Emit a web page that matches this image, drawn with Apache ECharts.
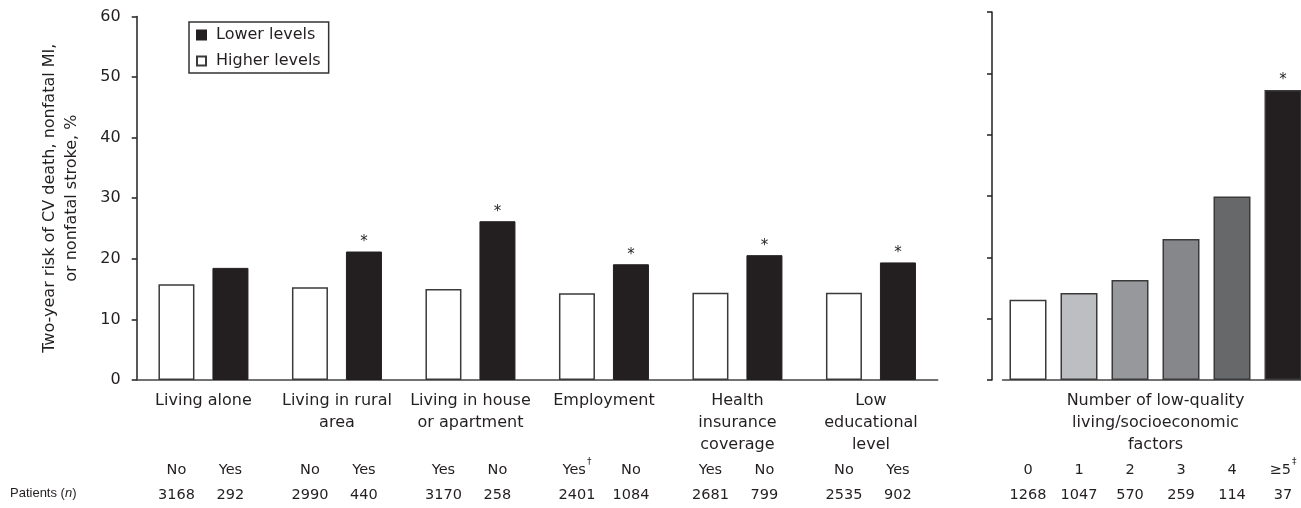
<!DOCTYPE html>
<html><head><meta charset="utf-8">
<script src="https://cdn.jsdelivr.net/npm/echarts@6/dist/echarts.min.js"></script>
<style>html,body{margin:0;padding:0;background:#fff}#c{width:1301px;height:508px}</style>
</head><body><div id="c"></div>
<script>
// ---- data ----
const groupNames = ['Living alone', 'Living in rural\narea', 'Living in house\nor apartment', 'Employment', 'Health\ninsurance\ncoverage', 'Low\neducational\nlevel'];
const higherValues = [15.8, 15.3, 15.0, 14.3, 14.4, 14.4];
const lowerValues = [18.5, 21.2, 26.2, 19.1, 20.6, 19.4];
const higherAnswers = ['No', 'No', 'Yes', 'Yes†', 'Yes', 'No'];
const lowerAnswers = ['Yes', 'Yes', 'No', 'No', 'No', 'Yes'];
const higherCounts = [3168, 2990, 3170, 2401, 2681, 2535];
const lowerCounts = [292, 440, 258, 1084, 799, 902];
const lowerSignificant = [false, true, true, true, true, true];
const factorTitle = 'Number of low-quality\nliving/socioeconomic\nfactors';
const factorCategories = ['0', '1', '2', '3', '4', '≥5‡'];
const factorValues = [13.1, 14.2, 16.3, 23.0, 29.9, 47.3];
const factorCounts = [1268, 1047, 570, 259, 114, 37];
const factorSignificant = [false, false, false, false, false, true];
const yAxisTitle = 'Two-year risk of CV death, nonfatal MI,\nor nonfatal stroke, %';
const yMin = 0, yMax = 60, yStep = 10;

// ---- styles ----
const INK = '#231f20';
const EDGE = '#3a3a3a';
const FONT = 'DejaVu Sans';
const factorColors = ['#ffffff', '#bdbec2', '#97989c', '#86878a', '#67686a', INK];

function supWrap(s) {
  return s.replace(/([†‡])/g, '{sup|$1}').replace(/^([^{]+)/, '{a|$1}');
}
const richBottom = {
  a: { fontFamily: FONT, fontSize: 14.5, color: INK, lineHeight: 25 },
  b: { fontFamily: FONT, fontSize: 14.5, color: INK, lineHeight: 25 },
  sup: { fontFamily: FONT, fontSize: 9, color: INK, lineHeight: 25, verticalAlign: 'top', padding: [0, 0, 0, 1] }
};
function bottomLabel(answers, counts) {
  return {
    show: true, position: 'bottom', distance: 77.5,
    formatter: p => supWrap(answers[p.dataIndex]) + '\n{b|' + counts[p.dataIndex] + '}',
    rich: richBottom
  };
}
function starPoints(values, flags) {
  const out = [];
  flags.forEach((f, i) => { if (f) out.push({ coord: [i, values[i]], value: values[i] }); });
  return {
    symbol: 'circle', symbolSize: 0, silent: true,
    label: { show: true, position: 'top', distance: 2, formatter: '*', fontFamily: FONT, fontSize: 15, color: INK },
    data: out
  };
}

const chart = echarts.init(document.getElementById('c'), null, { renderer: 'canvas' });
chart.setOption({
  animation: false,
  backgroundColor: '#fff',
  textStyle: { fontFamily: FONT, color: INK },
  title: {
    text: 'Patients ({i|n})', left: 10, top: 487, padding: 0,
    textStyle: { fontFamily: 'Liberation Sans', fontSize: 13, fontWeight: 'normal', color: INK,
      rich: { i: { fontFamily: 'Liberation Sans', fontSize: 13, fontStyle: 'italic', color: INK } } }
  },
  legend: {
    data: ['Lower levels', 'Higher levels'],
    orient: 'vertical', left: 189, top: 22,
    padding: [4, 8, 3, 7], itemGap: 8, itemWidth: 9, itemHeight: 9, icon: 'rect',
    borderColor: '#333', borderWidth: 1.5,
    textStyle: { fontFamily: FONT, fontSize: 16, color: INK, lineHeight: 18, padding: [0, 0, 0, 5] }
  },
  grid: [
    { left: 136.7, top: 16.4, width: 801, height: 363.6, outerBoundsMode: 'none' },
    { left: 1002.5, top: 12, width: 306, height: 368, outerBoundsMode: 'none' }
  ],
  xAxis: [
    {
      type: 'category', gridIndex: 0, data: groupNames,
      axisLine: { lineStyle: { color: '#444', width: 1.5 } },
      axisTick: { show: false },
      axisLabel: { interval: 0, margin: 10, fontFamily: FONT, fontSize: 16, lineHeight: 22, color: INK }
    },
    {
      type: 'category', gridIndex: 1, data: factorCategories,
      axisLine: { lineStyle: { color: '#444', width: 1.5 } },
      axisTick: { show: false },
      axisLabel: { show: false },
      name: factorTitle, nameLocation: 'middle', nameGap: 10,
      nameTextStyle: { fontFamily: FONT, fontSize: 16, lineHeight: 22, color: INK, verticalAlign: 'top' }
    }
  ],
  yAxis: [
    {
      type: 'value', gridIndex: 0, min: yMin, max: yMax, interval: yStep,
      axisLine: { show: true, lineStyle: { color: INK, width: 1.5 } },
      axisTick: { show: true, length: 5, lineStyle: { color: INK, width: 1.5 } },
      splitLine: { show: false },
      axisLabel: { margin: 16, fontFamily: FONT, fontSize: 16, color: INK },
      name: yAxisTitle, nameLocation: 'middle', nameGap: 54, nameRotate: 90,
      nameTextStyle: { fontFamily: FONT, fontSize: 16, lineHeight: 22, color: INK }
    },
    {
      type: 'value', gridIndex: 1, min: yMin, max: yMax, interval: yStep, offset: 10.5,
      axisLine: { show: true, lineStyle: { color: INK, width: 1.5 } },
      axisTick: { show: true, length: 5, lineStyle: { color: INK, width: 1.5 } },
      splitLine: { show: false },
      axisLabel: { show: false }
    }
  ],
  series: [
    {
      name: 'Higher levels', type: 'bar', xAxisIndex: 0, yAxisIndex: 0,
      data: higherValues, barWidth: 36, barGap: '50%',
      itemStyle: { color: '#ffffff', borderColor: EDGE, borderWidth: 1.5 },
      label: bottomLabel(higherAnswers, higherCounts)
    },
    {
      name: 'Lower levels', type: 'bar', xAxisIndex: 0, yAxisIndex: 0,
      data: lowerValues, barWidth: 36, barGap: '50%',
      itemStyle: { color: INK, borderColor: INK, borderWidth: 1 },
      label: bottomLabel(lowerAnswers, lowerCounts),
      markPoint: starPoints(lowerValues, lowerSignificant)
    },
    {
      name: 'Factors', type: 'bar', xAxisIndex: 1, yAxisIndex: 1,
      data: factorValues.map((v, i) => ({ value: v, itemStyle: { color: factorColors[i] } })),
      barWidth: 37,
      itemStyle: { borderColor: EDGE, borderWidth: 1.5 },
      label: bottomLabel(factorCategories, factorCounts),
      markPoint: starPoints(factorValues, factorSignificant)
    }
  ]
});
</script>
</body></html>
